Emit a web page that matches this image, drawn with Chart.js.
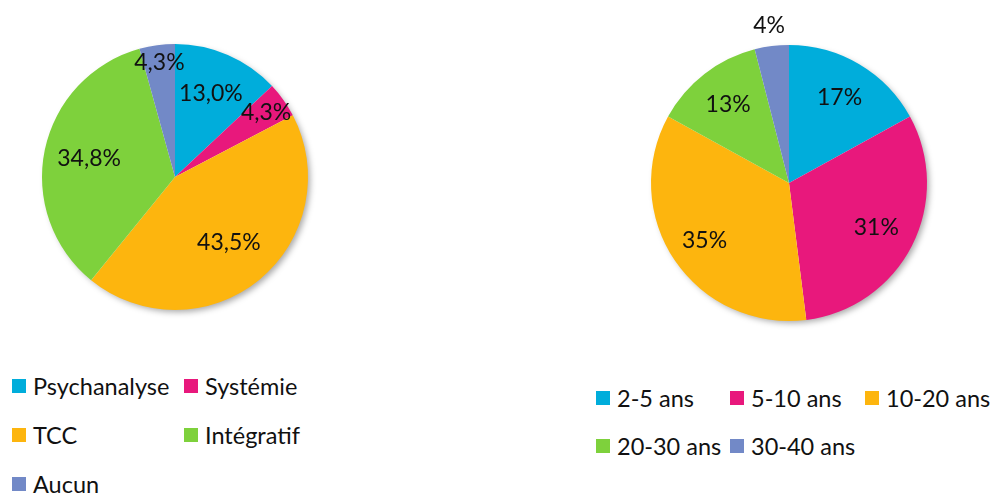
<!DOCTYPE html>
<html>
<head>
    <title>Orientation et ancienneté</title>
    <script src="https://cdn.jsdelivr.net/npm/chart.js@4.4.0/dist/chart.umd.min.js"></script>
    <style>
        body {
            margin: 0;
            background: #fff;
            font-family: Lato, "Open Sans", sans-serif;
            width: 994px;
            height: 495px;
            position: relative;
            overflow: hidden;
        }
        .pie { position: absolute; }
        .legend {
            position: absolute;
            display: grid;
            color: #111;
            font-size: 23.5px;
        }
        .legend .item {
            display: flex;
            align-items: center;
            height: 26px;
            white-space: nowrap;
        }
        .legend .box {
            width: 14px;
            height: 14px;
            margin-right: 7px;
            flex: none;
        }
        #legend1 { left: 12px; top: 373px; grid-template-columns: 172px 172px; row-gap: 23px; }
        #legend2 { left: 596px; top: 385px; grid-template-columns: 134px 135px 135px; row-gap: 22px; }
    </style>
</head>
<body>
    <div class="pie" style="left:0;top:0"><canvas id="pie1" width="350" height="350"></canvas></div>
    <div class="pie" style="left:620px;top:0"><canvas id="pie2" width="340" height="350"></canvas></div>
    <div class="legend" id="legend1"></div>
    <div class="legend" id="legend2"></div>

    <script>
        // Orientation
        const orientLabels = ['Psychanalyse', 'Systémie', 'TCC', 'Intégratif', 'Aucun'];
        const orientValues = [13.0, 4.3, 43.5, 34.8, 4.3];
        const orientText = ['13,0%', '4,3%', '43,5%', '34,8%', '4,3%'];

        // Ancienneté
        const ageLabels = ['2-5 ans', '5-10 ans', '10-20 ans', '20-30 ans', '30-40 ans'];
        const ageValues = [17, 31, 35, 13, 4];
        const ageText = ['17%', '31%', '35%', '13%', '4%'];

        const colors = ['#00ADDB', '#E8187C', '#FDB50E', '#7ED13C', '#7289C7'];

        // where each label sits, as a fraction of the radius
        const labelRadius1 = [0.68, 0.84, 0.64, 0.66, 0.87];
        const labelRadius2 = [0.72, 0.71, 0.74, 0.72, 1.15];

        const pieExtras = {
            id: 'pieExtras',
            beforeDatasetsDraw(chart) {
                const arc = chart.getDatasetMeta(0).data[0];
                if (!arc) return;
                const ctx = chart.ctx;
                ctx.save();
                ctx.shadowColor = 'rgba(0,0,0,0.35)';
                ctx.shadowBlur = 6;
                ctx.shadowOffsetX = 3;
                ctx.shadowOffsetY = 3;
                ctx.fillStyle = '#fff';
                ctx.beginPath();
                ctx.arc(arc.x, arc.y, arc.outerRadius - 1, 0, Math.PI * 2);
                ctx.fill();
                ctx.restore();
            },
            afterDatasetsDraw(chart, args, opts) {
                const ctx = chart.ctx;
                ctx.save();
                ctx.font = '23px Lato, "Open Sans", sans-serif';
                ctx.fillStyle = '#111';
                ctx.textAlign = 'center';
                ctx.textBaseline = 'middle';
                chart.getDatasetMeta(0).data.forEach((arc, i) => {
                    const mid = (arc.startAngle + arc.endAngle) / 2;
                    const r = arc.outerRadius * opts.radius[i];
                    ctx.fillText(opts.text[i], arc.x + Math.cos(mid) * r, arc.y + Math.sin(mid) * r);
                });
                ctx.restore();
            }
        };

        function makePie(id, labels, values, text, radius, padding) {
            new Chart(document.getElementById(id), {
                type: 'pie',
                data: {
                    labels: labels,
                    datasets: [{
                        data: values,
                        backgroundColor: colors,
                        borderWidth: 0
                    }]
                },
                options: {
                    responsive: false,
                    animation: false,
                    layout: { padding: padding },
                    plugins: {
                        legend: { display: false },
                        tooltip: { enabled: false },
                        pieExtras: { text: text, radius: radius }
                    }
                },
                plugins: [pieExtras]
            });
        }

        function makeLegend(id, labels) {
            const el = document.getElementById(id);
            labels.forEach((lab, i) => {
                const item = document.createElement('div');
                item.className = 'item';
                item.innerHTML = '<span class="box" style="background:' + colors[i] + '"></span>' + lab;
                el.appendChild(item);
            });
        }

        makePie('pie1', orientLabels, orientValues, orientText, labelRadius1,
            { left: 42, top: 44, right: 42, bottom: 40 });
        makePie('pie2', ageLabels, ageValues, ageText, labelRadius2,
            { left: 31, top: 45, right: 33, bottom: 29 });

        makeLegend('legend1', orientLabels);
        makeLegend('legend2', ageLabels);
    </script>
</body>
</html>
